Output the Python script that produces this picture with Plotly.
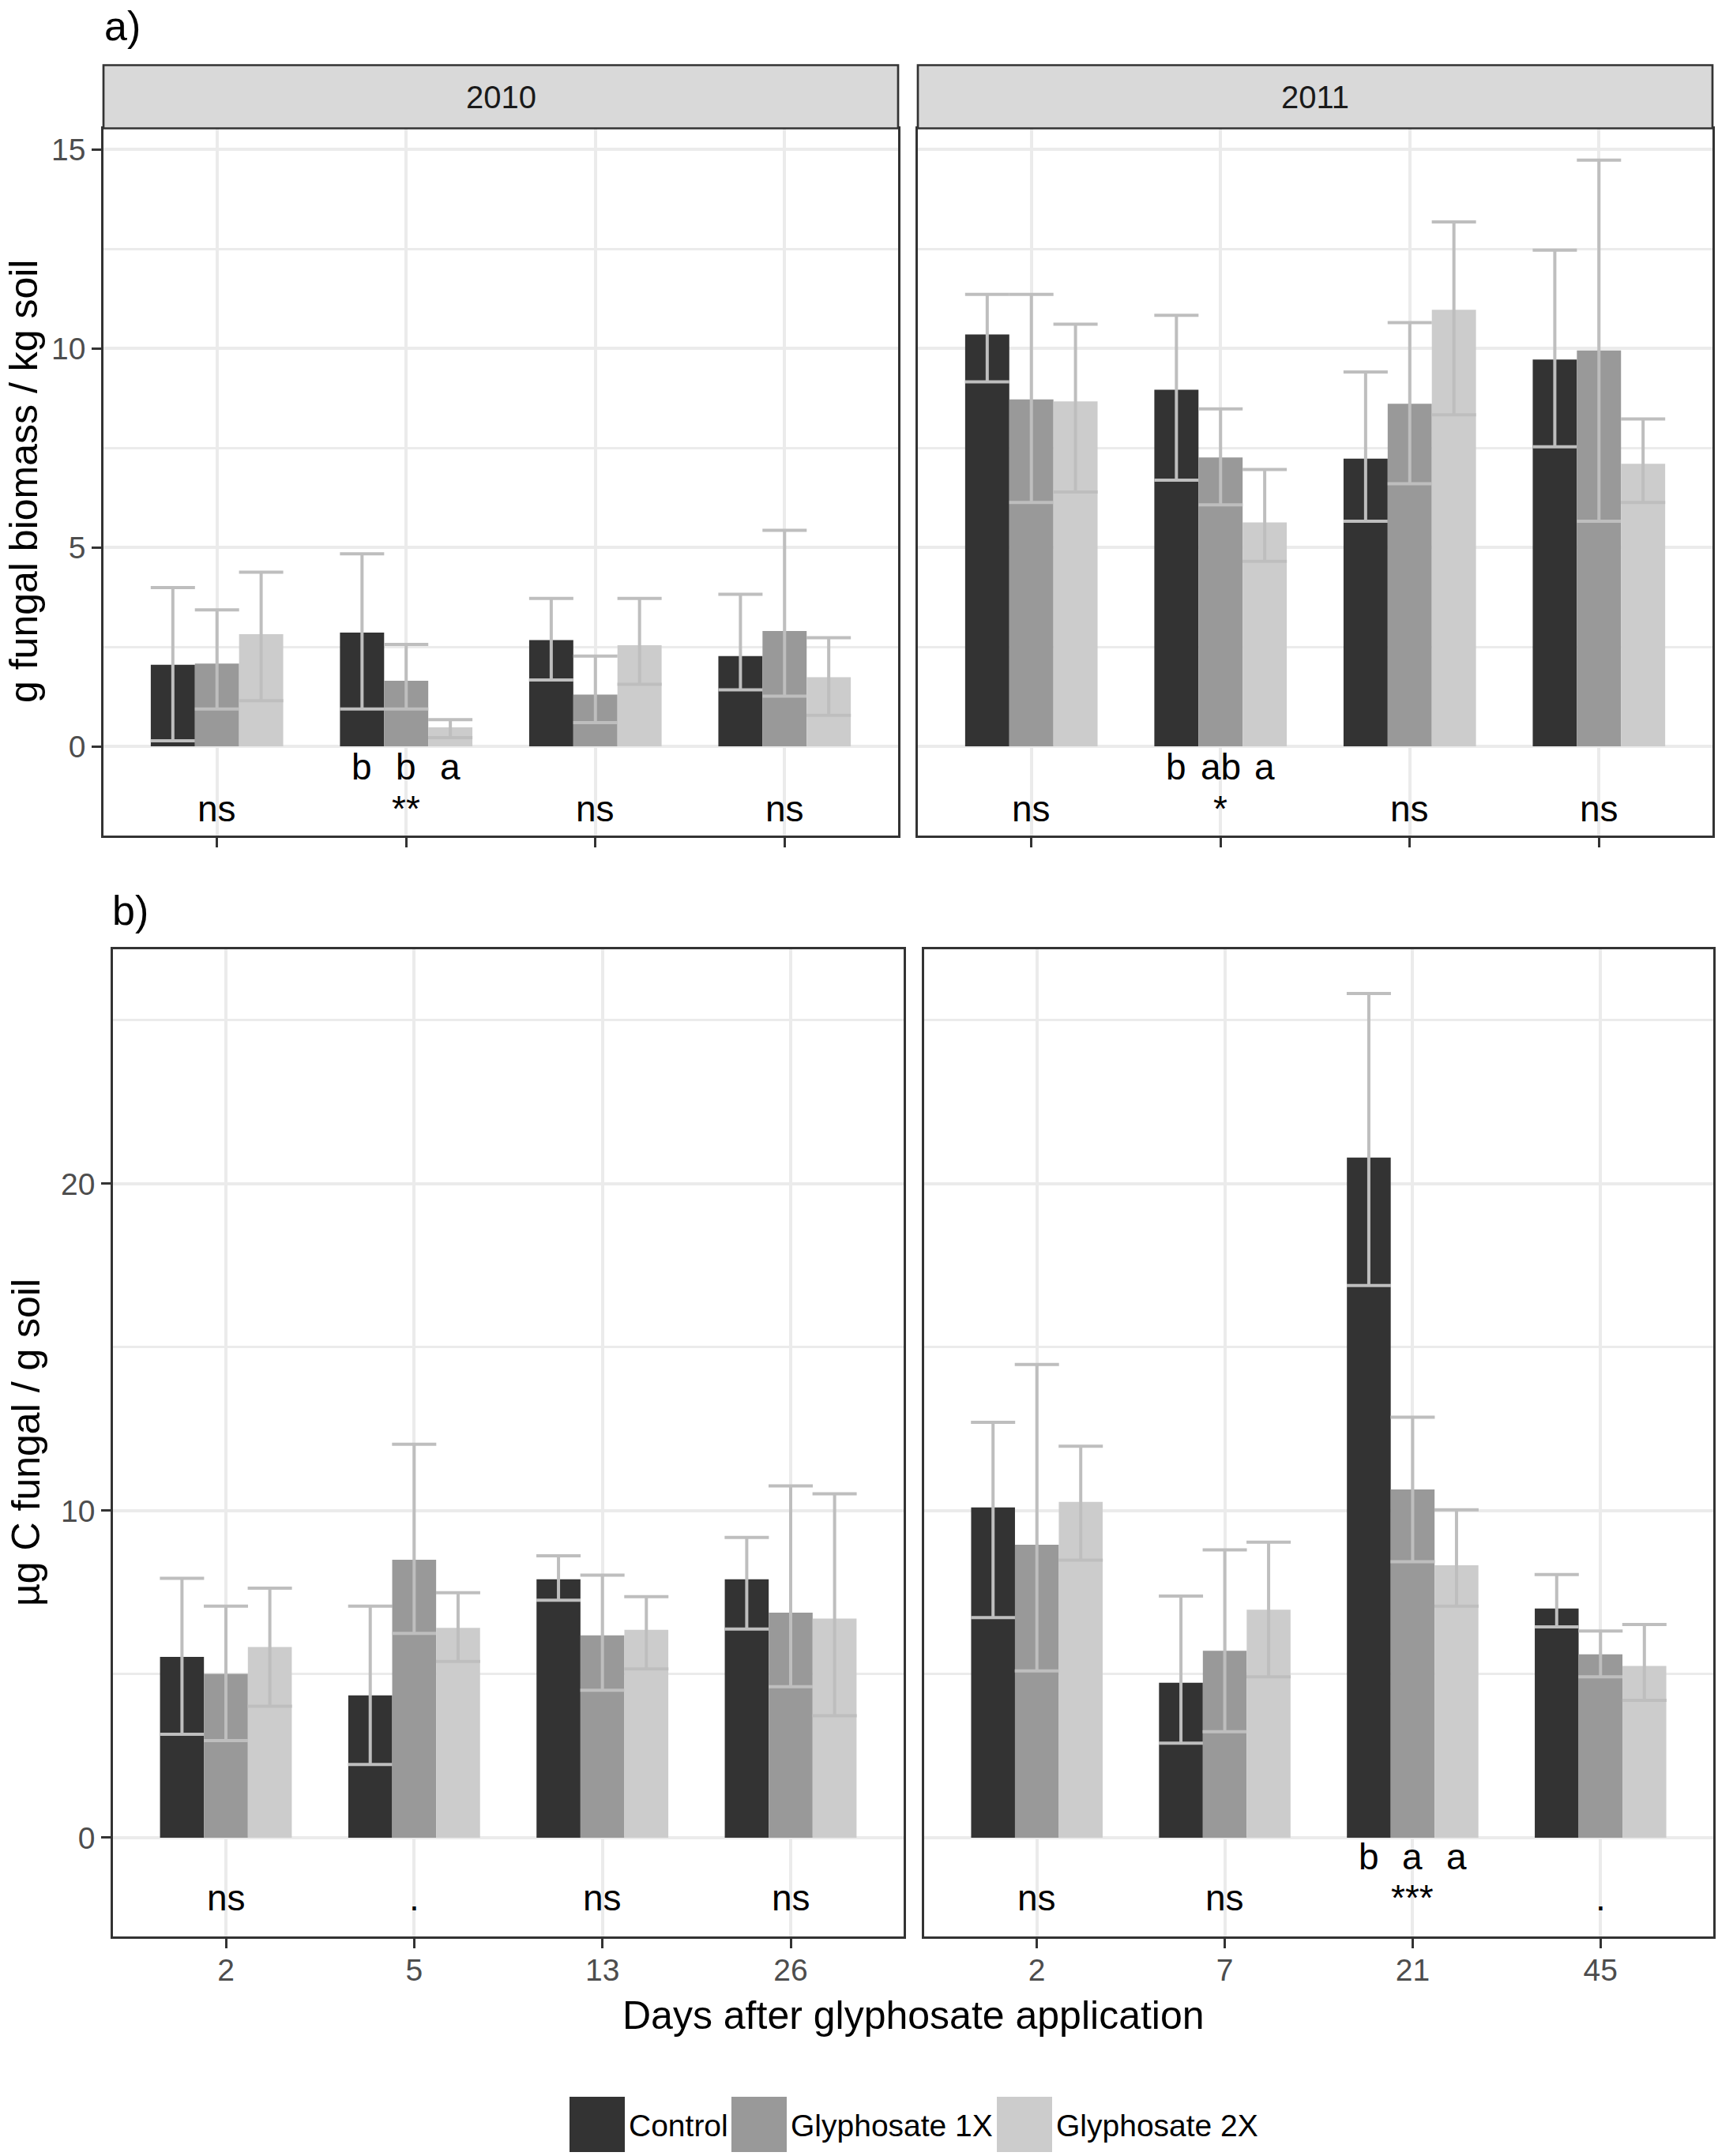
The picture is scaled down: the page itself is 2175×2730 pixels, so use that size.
import numpy as np
import plotly.graph_objects as go

W, H = 2175, 2730
FONT = "Liberation Sans, Arial, sans-serif"

treatments = ["Control", "Glyphosate 1X", "Glyphosate 2X"]
colors = ["#333333", "#999999", "#CCCCCC"]

days_2010 = ["2", "5", "13", "26"]
days_2011 = ["2", "7", "21", "45"]

# ---- a) g fungal biomass / kg soil  (rows: Control, 1X, 2X)
bio_2010_mean = [[2.05, 2.86, 2.67, 2.27],
                 [2.08, 1.65, 1.30, 2.90],
                 [2.82, 0.48, 2.54, 1.74]]
bio_2010_upper = [[3.99, 4.84, 3.72, 3.82],
                  [3.43, 2.56, 2.27, 5.43],
                  [4.38, 0.67, 3.72, 2.73]]
bio_2010_lower = [[0.14, 0.94, 1.67, 1.42],
                  [0.94, 0.94, 0.60, 1.26],
                  [1.15, 0.22, 1.56, 0.78]]

bio_2011_mean = [[10.35, 8.96, 7.23, 9.72],
                 [8.72, 7.26, 8.61, 9.95],
                 [8.67, 5.63, 10.97, 7.10]]
bio_2011_upper = [[11.36, 10.83, 9.41, 12.47],
                  [11.36, 8.48, 10.65, 14.73],
                  [10.61, 6.96, 13.18, 8.23]]
bio_2011_lower = [[9.16, 6.69, 5.66, 7.53],
                  [6.13, 6.07, 6.60, 5.66],
                  [6.39, 4.65, 8.33, 6.13]]

# ---- b) µg C fungal / g soil
c_2010_mean = [[5.53, 4.35, 7.90, 7.90],
               [5.01, 8.50, 6.19, 6.88],
               [5.83, 6.42, 6.36, 6.70]]
c_2010_upper = [[7.93, 7.08, 8.62, 9.18],
                [7.08, 12.03, 8.03, 10.76],
                [7.63, 7.49, 7.37, 10.52]]
c_2010_lower = [[3.16, 2.24, 7.26, 6.38],
                [2.97, 6.25, 4.51, 4.62],
                [4.02, 5.39, 5.16, 3.73]]

c_2011_mean = [[10.10, 4.74, 20.80, 7.01],
               [8.96, 5.72, 10.65, 5.61],
               [10.27, 6.97, 8.33, 5.25]]
c_2011_upper = [[12.70, 7.39, 25.82, 8.05],
                [14.47, 8.80, 12.86, 6.32],
                [11.97, 9.04, 10.03, 6.52]]
c_2011_lower = [[6.73, 2.89, 16.89, 6.45],
                [5.10, 3.24, 8.44, 4.92],
                [8.49, 4.92, 7.08, 4.20]]

# significance labels
sig_bio_2010 = ["ns", "**", "ns", "ns"]
sig_bio_2011 = ["ns", "*", "ns", "ns"]
sig_c_2010 = ["ns", ".", "ns", "ns"]
sig_c_2011 = ["ns", "ns", "***", "."]
letters_bio_2010 = [None, ["b", "b", "a"], None, None]
letters_bio_2011 = [None, ["b", "ab", "a"], None, None]
letters_c_2010 = [None, None, None, None]
letters_c_2011 = [None, None, ["b", "a", "a"], None]

strip_labels = ["2010", "2011"]


def px_x(px):
    return px / W


def px_y(py):
    return 1 - py / H


BARGAP = 0.3
barw = (1 - BARGAP) / 3

panels = [
    dict(ax="", days=days_2010, mean=bio_2010_mean, up=bio_2010_upper, lo=bio_2010_lower,
         sig=sig_bio_2010, letters=letters_bio_2010, sig_y=-1.56, let_y=-0.52),
    dict(ax="2", days=days_2011, mean=bio_2011_mean, up=bio_2011_upper, lo=bio_2011_lower,
         sig=sig_bio_2011, letters=letters_bio_2011, sig_y=-1.56, let_y=-0.52),
    dict(ax="3", days=days_2010, mean=c_2010_mean, up=c_2010_upper, lo=c_2010_lower,
         sig=sig_c_2010, letters=letters_c_2010, sig_y=-1.83, let_y=-0.57),
    dict(ax="4", days=days_2011, mean=c_2011_mean, up=c_2011_upper, lo=c_2011_lower,
         sig=sig_c_2011, letters=letters_c_2011, sig_y=-1.83, let_y=-0.57),
]

fig = go.Figure()
annotations = []


def txt(x, y, text, size, color="black", xanchor="center", angle=0, xref="paper", yref="paper"):
    return dict(x=x, y=y, xref=xref, yref=yref, text=text, showarrow=False,
                xanchor=xanchor, yanchor="middle", textangle=angle,
                font=dict(size=size, color=color, family=FONT))


for p in panels:
    for k, t in enumerate(treatments):
        m = np.array(p["mean"][k])
        u = np.array(p["up"][k])
        lo = np.array(p["lo"][k])
        fig.add_trace(go.Bar(
            x=p["days"], y=m, name=t, showlegend=False, offsetgroup=str(k),
            marker=dict(color=colors[k], line=dict(width=0)),
            error_y=dict(type="data", symmetric=False, array=u - m, arrayminus=m - lo,
                         color="#BEBEBE", thickness=4, width=28),
            xaxis="x" + p["ax"], yaxis="y" + p["ax"],
        ))
    for i, s in enumerate(p["sig"]):
        annotations.append(txt(i, p["sig_y"], s, 46, xref="x" + p["ax"], yref="y" + p["ax"]))
    for i, lets in enumerate(p["letters"]):
        if lets:
            for k, L in enumerate(lets):
                annotations.append(txt(i + (k - 1) * barw, p["let_y"], L, 46,
                                       xref="x" + p["ax"], yref="y" + p["ax"]))

tickfont = dict(size=39, color="#4D4D4D", family=FONT)


def xax(dom, anchor, show_labels):
    return dict(domain=dom, anchor=anchor, type="category", range=[-0.6, 3.6],
                showgrid=True, gridcolor="#EBEBEB", gridwidth=4, zeroline=False,
                showline=True, mirror=True, linecolor="#333333", linewidth=2.7,
                ticks="outside", ticklen=12, tickwidth=2.7, tickcolor="#333333",
                showticklabels=show_labels, tickfont=tickfont, automargin=False,
                ticklabelstandoff=-6, fixedrange=True)


def yax(dom, anchor, rng, dtick, mdtick, show):
    return dict(domain=dom, anchor=anchor, range=rng, tickmode="linear", tick0=0, dtick=dtick,
                showgrid=True, gridcolor="#EBEBEB", gridwidth=4, zeroline=False,
                minor=dict(tick0=0, dtick=mdtick, showgrid=True, gridcolor="#EBEBEB",
                           gridwidth=2.5, ticks=""),
                showline=True, mirror=True, linecolor="#333333", linewidth=2.7,
                ticks="outside" if show else "", ticklen=12, tickwidth=2.7, tickcolor="#333333",
                showticklabels=show, tickfont=tickfont, automargin=False, fixedrange=True)


top_y = [px_y(1058), px_y(162.5)]
bot_y = [px_y(2452), px_y(1202)]
tl_x = [px_x(131), px_x(1137)]
tr_x = [px_x(1162), px_x(2168)]
bl_x = [px_x(143), px_x(1144)]
br_x = [px_x(1170), px_x(2169)]

top_range = [-2.24, 15.53]
bot_range = [-3.02, 27.17]

shapes = []
# facet strips
for dom, lab in zip([tl_x, tr_x], strip_labels):
    shapes.append(dict(type="rect", xref="paper", yref="paper", x0=dom[0], x1=dom[1],
                       y0=px_y(162.5), y1=px_y(82.5), fillcolor="#D9D9D9",
                       line=dict(color="#333333", width=2.7), layer="above"))
    annotations.append(txt((dom[0] + dom[1]) / 2, px_y(123), lab, 40, color="#1A1A1A"))

# custom legend
legend_x = [721, 926, 1262]
for k, t in enumerate(treatments):
    shapes.append(dict(type="rect", xref="paper", yref="paper",
                       x0=px_x(legend_x[k]), x1=px_x(legend_x[k] + 70),
                       y0=px_y(2725), y1=px_y(2655), fillcolor=colors[k], line=dict(width=0)))
    annotations.append(txt(px_x(legend_x[k] + 73), px_y(2691), t, 39, xanchor="left"))

# titles
annotations += [
    txt(px_x(130), px_y(33), "a)", 52, xanchor="left"),
    txt(px_x(140), px_y(1153), "b)", 52, xanchor="left"),
    txt(px_x(30), px_y(610), "g fungal biomass / kg soil", 50, angle=-90),
    txt(px_x(33), px_y(1827), "µg C fungal / g soil", 50, angle=-90),
    txt(px_x(1157), px_y(2552), "Days after glyphosate application", 50),
]

fig.update_layout(
    template="none",
    width=W, height=H,
    margin=dict(l=0, r=0, t=0, b=0),
    paper_bgcolor="white", plot_bgcolor="white",
    barmode="group", bargap=BARGAP, bargroupgap=0,
    showlegend=False,
    font=dict(family=FONT),
    xaxis=xax(tl_x, "y", False),
    xaxis2=xax(tr_x, "y2", False),
    xaxis3=xax(bl_x, "y3", True),
    xaxis4=xax(br_x, "y4", True),
    yaxis=yax(top_y, "x", top_range, 5, 2.5, True),
    yaxis2=yax(top_y, "x2", top_range, 5, 2.5, False),
    yaxis3=yax(bot_y, "x3", bot_range, 10, 5, True),
    yaxis4=yax(bot_y, "x4", bot_range, 10, 5, False),
    shapes=shapes,
    annotations=annotations,
)

fig.write_html("out.html", config={"displayModeBar": False},
               post_script="document.body.style.margin='0';document.body.style.overflow='hidden';")
